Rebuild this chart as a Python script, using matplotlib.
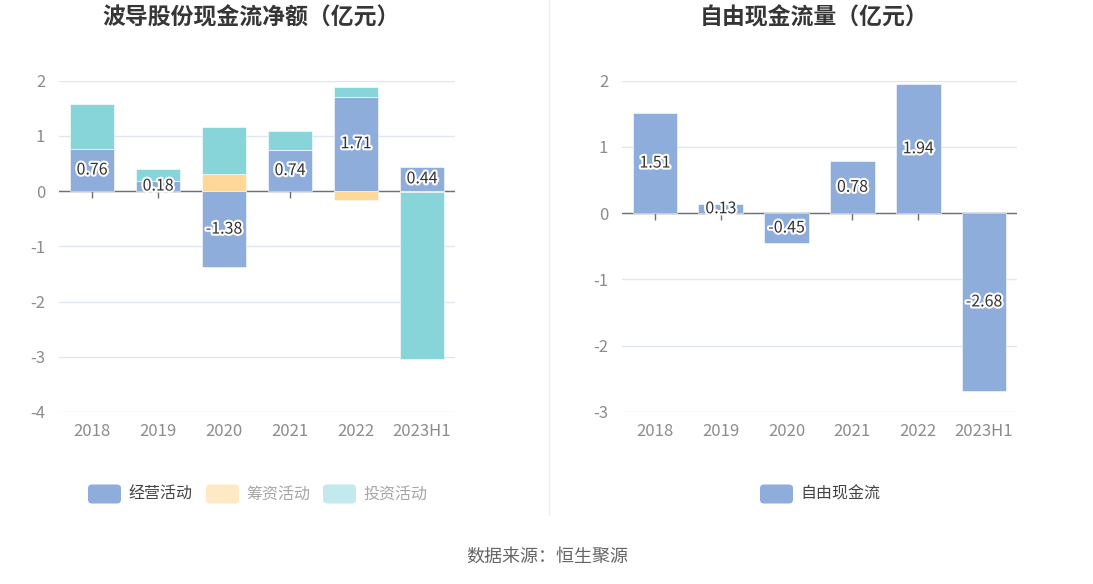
import numpy as np
import matplotlib
matplotlib.use("Agg")
import matplotlib.pyplot as plt
import matplotlib.patheffects as pe
from matplotlib.patches import FancyBboxPatch

plt.rcParams['font.family'] = ['Noto Sans CJK SC', 'DejaVu Sans']

# data
years = ['2018', '2019', '2020', '2021', '2022', '2023H1']
operating = [0.76, 0.18, -1.38, 0.74, 1.71, 0.44]
financing = [0.0, 0.0, 0.31, 0.0, -0.17, -0.02]
investing = [0.81, 0.21, 0.85, 0.34, 0.17, -3.02]
free_cf = [1.51, 0.13, -0.45, 0.78, 1.94, -2.68]

BLUE = '#8eaddb'
ORANGE = '#ffd797'
TEAL = '#87d5d9'
GRID = '#e0e6f1'
AXIS = '#6e7079'
TICK_TXT = '#8c8c8c'
TITLE = '#363636'

fig = plt.figure(figsize=(10.93, 5.84), dpi=100)
W, H = 1093, 584


def style_axes(ax, ylim, nyears):
    ax.set_ylim(*ylim)
    ax.set_xlim(-0.5, nyears - 0.5)
    for s in ax.spines.values():
        s.set_visible(False)
    ax.set_yticks(range(ylim[0], ylim[1] + 1))
    ax.set_yticklabels([str(v) for v in range(ylim[0], ylim[1] + 1)])
    ax.grid(axis='y', color=GRID, linewidth=1, zorder=0)
    ax.set_axisbelow(True)
    ax.tick_params(axis='y', length=0, pad=10, labelsize=12, labelcolor=TICK_TXT)
    ax.tick_params(axis='x', length=0, pad=8, labelsize=12, labelcolor=TICK_TXT)
    ax.set_xticks(range(nyears))
    ax.set_xticklabels(years)
    ax.axhline(0, color=AXIS, linewidth=1, zorder=1)
    ax.plot(range(nyears), [0] * nyears, linestyle='none', marker=3,
            markersize=5, color=AXIS, zorder=1)


def label(ax, x, y, txt):
    ax.text(x, y, txt, ha='center', va='center', fontsize=11.5, color='#333333',
            zorder=5, path_effects=[pe.withStroke(linewidth=3, foreground='white')])


# left chart: stacked cash flows
ax1 = fig.add_axes([59 / W, 1 - 412 / H, 396 / W, 331.5 / H])
style_axes(ax1, (-4, 2), len(years))
x = np.arange(len(years))
pos = np.zeros(len(years))
neg = np.zeros(len(years))
for vals, col in [(operating, BLUE), (financing, ORANGE), (investing, TEAL)]:
    v = np.array(vals)
    bottom = np.where(v >= 0, pos, neg)
    ax1.bar(x, v, bottom=bottom, width=0.68, color=col, edgecolor='white',
            linewidth=0.4, zorder=2)
    pos = pos + np.where(v >= 0, v, 0)
    neg = neg + np.where(v < 0, v, 0)
for i, v in enumerate(operating):
    label(ax1, i, v / 2, f'{v:.2f}')

# right chart: free cash flow
ax2 = fig.add_axes([622 / W, 1 - 412 / H, 395 / W, 331.5 / H])
style_axes(ax2, (-3, 2), len(years))
ax2.bar(x, free_cf, width=0.68, color=BLUE, edgecolor='white', linewidth=0.4, zorder=2)
for i, v in enumerate(free_cf):
    label(ax2, i, v / 2, f'{v:.2f}')

# titles
fig.text(251 / W, 1 - 18 / H, '波导股份现金流净额（亿元）', ha='center', va='center',
         fontsize=16.5, fontweight='bold', color=TITLE)
fig.text(814 / W, 1 - 18 / H, '自由现金流量（亿元）', ha='center', va='center',
         fontsize=16.5, fontweight='bold', color=TITLE)

# divider
fig.add_artist(plt.Line2D([549 / W, 549 / W], [1 - 515 / H, 1.0], color='#eeeeee',
                          linewidth=1, transform=fig.transFigure))


def legend_item(px, py, color, text, tcolor):
    box = FancyBboxPatch((px / 100, (H - py - 9.5) / 100), 0.33, 0.19,
                         boxstyle='round,pad=0,rounding_size=0.04',
                         facecolor=color, edgecolor='none',
                         transform=fig.dpi_scale_trans)
    fig.add_artist(box)
    fig.text((px + 40) / W, 1 - py / H, text, ha='left', va='center',
             fontsize=11.5, color=tcolor)


legend_item(88, 494, BLUE, '经营活动', '#444444')
legend_item(206, 494, '#ffe8c4', '筹资活动', '#a6a6a6')
legend_item(323, 494, '#c2eaec', '投资活动', '#a6a6a6')
legend_item(760, 494, BLUE, '自由现金流', '#444444')

fig.text(547 / W, 1 - 557 / H, '数据来源：恒生聚源', ha='center', va='center',
         fontsize=13, color='#666666')

fig.savefig('out.png', dpi=100)
